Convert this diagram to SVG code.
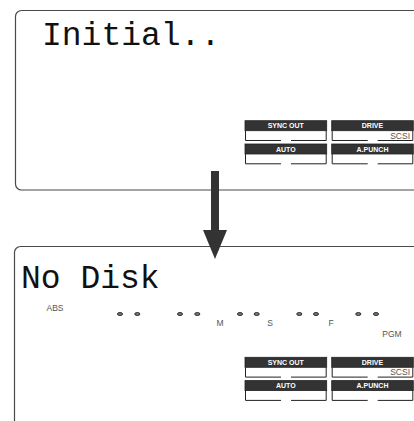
<svg xmlns="http://www.w3.org/2000/svg" width="414" height="421" viewBox="0 0 414 421">
<style>
.panel{fill:#fff;stroke:#4a4a4a;stroke-width:1.2}
.lcd{font-family:"Liberation Mono","DejaVu Sans Mono",monospace;font-size:33px;fill:#111}
.hdr{fill:#333;stroke:#222;stroke-width:0.8}
.hdrt{font-family:"Liberation Sans",Arial,sans-serif;font-size:7px;font-weight:bold;fill:#fff;text-anchor:middle}
.ln{stroke:#222;stroke-width:1;fill:none}
.sm{font-family:"Liberation Sans",Arial,sans-serif;font-size:8.5px;fill:#555}
.dot{fill:#777;stroke:#222;stroke-width:0.9}
</style>
<defs>
<g id="indicators">
<rect class="hdr" x="245" y="120.7" width="81.7" height="10"/>
<text class="hdrt" x="285.8" y="128.3">SYNC OUT</text>
<path class="ln" d="M245.5 130.7V140.5H281M291 140.5H326.2V130.7"/>
<rect class="hdr" x="331.7" y="120.7" width="81.6" height="10"/>
<text class="hdrt" x="372.5" y="128.3">DRIVE</text>
<path class="ln" d="M332.2 130.7V140.5H367.7M377.7 140.5H412.8V130.7"/>
<text class="sm" x="410" y="138.5" text-anchor="end">SCSI</text>
<rect class="hdr" x="245" y="144" width="81.7" height="10"/>
<text class="hdrt" x="285.8" y="151.6">AUTO</text>
<path class="ln" d="M245.5 154V163.8H281M291 163.8H326.2V154"/>
<rect class="hdr" x="331.7" y="144" width="81.6" height="10"/>
<text class="hdrt" x="372.5" y="151.6">A.PUNCH</text>
<path class="ln" d="M332.2 154V163.8H367.7M377.7 163.8H412.8V154"/>
</g>
</defs>
<g id="panel-initial">
<rect class="panel" x="15.5" y="10.5" width="420" height="179.5" rx="6"/>
<text class="lcd" x="42" y="45">Initial..</text>
<use href="#indicators"/>
</g>
<g id="panel-nodisk">
<rect class="panel" x="14.5" y="246.5" width="420" height="200" rx="6"/>
<text class="lcd" x="21" y="288">No Disk</text>
<text class="sm" x="55" y="311" text-anchor="middle">ABS</text>
<g class="dot">
<ellipse cx="120" cy="314" rx="2.6" ry="1.5"/><ellipse cx="137.3" cy="314" rx="2.6" ry="1.5"/>
<ellipse cx="180" cy="314" rx="2.6" ry="1.5"/><ellipse cx="197.3" cy="314" rx="2.6" ry="1.5"/>
<ellipse cx="240" cy="314" rx="2.6" ry="1.5"/><ellipse cx="256.7" cy="314" rx="2.6" ry="1.5"/>
<ellipse cx="299.3" cy="314" rx="2.6" ry="1.5"/><ellipse cx="316" cy="314" rx="2.6" ry="1.5"/>
<ellipse cx="358.3" cy="314" rx="2.6" ry="1.5"/><ellipse cx="376" cy="314" rx="2.6" ry="1.5"/>
</g>
<text class="sm" x="220" y="325.5" text-anchor="middle">M</text>
<text class="sm" x="270" y="325.5" text-anchor="middle">S</text>
<text class="sm" x="331" y="325.5" text-anchor="middle">F</text>
<text class="sm" x="392" y="337" text-anchor="middle">PGM</text>
<use href="#indicators" transform="translate(0,236.6)"/>
</g>
<g id="connectors">
<rect x="211" y="171" width="8" height="60" fill="#333"/>
<polygon points="203,230 227,230 215,259" fill="#333"/>
</g>
</svg>
